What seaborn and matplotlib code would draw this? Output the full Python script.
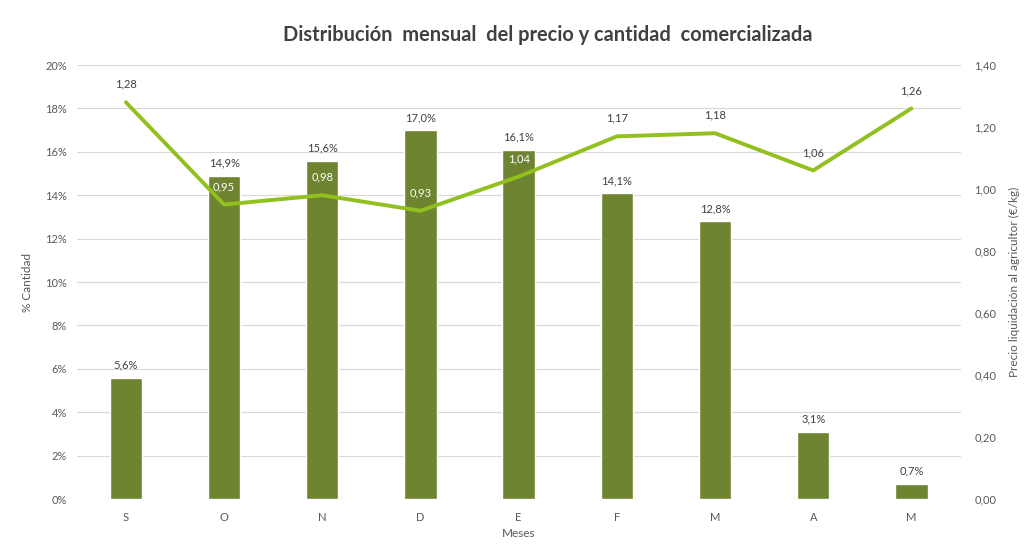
import numpy as np
import pandas as pd
import matplotlib.pyplot as plt
import seaborn as sns

# ── datos ──────────────────────────────────────────
meses = ['S', 'O', 'N', 'D', 'E', 'F', 'M', 'A', 'M']
cantidad = [5.6, 14.9, 15.6, 17.0, 16.1, 14.1, 12.8, 3.1, 0.7]
precio = [1.28, 0.95, 0.98, 0.93, 1.04, 1.17, 1.18, 1.06, 1.26]
# etiquetas de precio blancas (dentro de la barra)
precio_dentro = [False, True, True, True, True, False, False, False, False]

sns.set_theme(style='white')
plt.rcParams['font.family'] = ['Lato', 'DejaVu Sans']

gris = '#595959'
verde_barra = '#6E8430'
verde_linea = '#92C01F'

df = pd.DataFrame({'pos': [f'{m}{i}' for i, m in enumerate(meses)],
                   'cantidad': cantidad})

fig = plt.figure(figsize=(10.24, 5.56), dpi=100)
ax1 = fig.add_axes([0.075, 0.1025, 0.863, 0.7805])

sns.barplot(data=df, x='pos', y='cantidad', color=verde_barra,
            saturation=1, width=0.33, ax=ax1, zorder=2)
ax1.set_ylim(0, 20)
ax1.set_yticks(np.arange(0, 21, 2))
ax1.set_yticklabels([f'{v}%' for v in range(0, 21, 2)], color=gris, fontsize=8)
ax1.set_xticks(range(len(meses)))
ax1.set_xticklabels(meses, color=gris, fontsize=8)
ax1.set_xlim(-0.5, len(meses) - 0.5)
ax1.grid(axis='y', color='#D9D9D9', linewidth=0.8, zorder=0)
ax1.set_axisbelow(True)
ax1.tick_params(axis='y', length=0, pad=7)
ax1.tick_params(axis='x', length=0, pad=9)
ax1.set_xlabel('Meses', color=gris, fontsize=8.5, labelpad=4)
ax1.set_ylabel('% Cantidad', color=gris, fontsize=8.5)
ax1.yaxis.set_label_coords(-0.05, 0.5)

for i, v in enumerate(cantidad):
    ax1.annotate(f'{v:.1f}%'.replace('.', ','), (i, v), xytext=(0, 5),
                 textcoords='offset points', ha='center', va='bottom',
                 color='#404040', fontsize=8)

ax2 = ax1.twinx()
sns.lineplot(x=np.arange(len(meses)), y=precio, color=verde_linea,
             linewidth=2.8, ax=ax2)
ax2.set_ylim(0, 1.4)
ax2.set_yticks(np.arange(0, 1.41, 0.2))
ax2.set_yticklabels([f'{v:.2f}'.replace('.', ',') for v in np.arange(0, 1.41, 0.2)],
                    color=gris, fontsize=8)
ax2.tick_params(axis='y', length=0, pad=10)
ax2.set_ylabel('Precio liquidación al agricultor (€/kg)', color=gris,
               fontsize=8.5)
ax2.yaxis.set_label_coords(1.055, 0.5)

for i, v in enumerate(precio):
    c = 'white' if precio_dentro[i] else '#404040'
    ax2.annotate(f'{v:.2f}'.replace('.', ','), (i, v), xytext=(0, 9),
                 textcoords='offset points', ha='center', va='bottom',
                 color=c, fontsize=8)

for ax in (ax1, ax2):
    for s in ax.spines.values():
        s.set_visible(False)

fig.suptitle('Distribución  mensual  del precio y cantidad  comercializada',
             x=0.535, y=0.955, fontsize=14.4, fontweight='bold', color='#404040')

fig.savefig('out.png', dpi=100)
